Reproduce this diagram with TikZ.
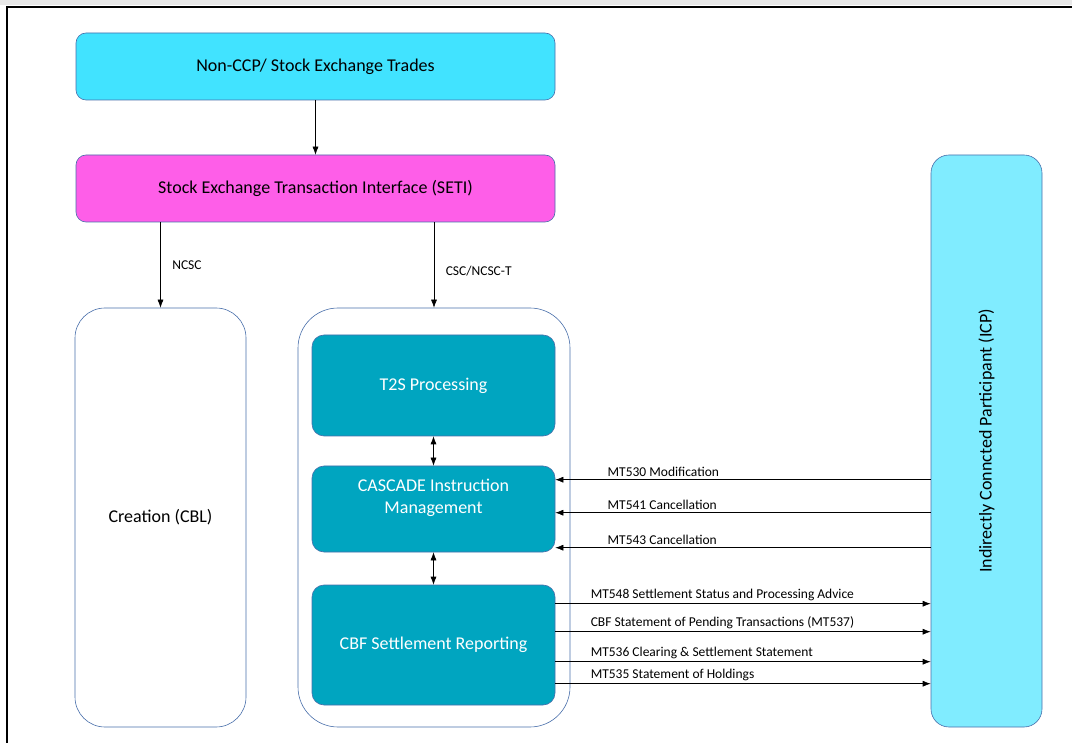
\documentclass[tikz,border=0pt]{standalone}
\usepackage{fontspec}
\setmainfont{Carlito}
\usetikzlibrary{arrows.meta}

\definecolor{boxline}{RGB}{72,110,170}
\definecolor{tradecyan}{RGB}{65,227,255}
\definecolor{setipink}{RGB}{254,94,232}
\definecolor{procteal}{RGB}{0,165,192}
\definecolor{icpcyan}{RGB}{128,236,255}
\definecolor{striptop}{RGB}{232,232,232}

\tikzset{
  bigbox/.style={draw=boxline, semithick, rounded corners=10pt, align=center,
    font=\fontsize{18}{22}\selectfont},
  procbox/.style={bigbox, fill=procteal, text=white, rounded corners=12pt,
    minimum width=243, inner sep=0pt},
  msg/.style={font=\fontsize{13.5}{16}\selectfont, inner sep=2.5pt},
  flow/.style={-{Latex[length=8pt,width=6pt]}, semithick},
  twoway/.style={{Latex[length=8pt,width=6pt]}-{Latex[length=8pt,width=6pt]}, semithick}
}

\begin{document}
\begin{tikzpicture}[x=1pt,y=-1pt]
\useasboundingbox (0,0) rectangle (1072,743);
\fill[striptop] (0,0) rectangle (1072,5);
\draw[line width=1.8pt] (7,743) -- (7,7) -- (1072,7);

\node[bigbox, fill=tradecyan, minimum width=479, minimum height=67] (trades) at (315.5,66.5) {Non-CCP/ Stock Exchange Trades};
\node[bigbox, fill=setipink, minimum width=479, minimum height=67] (seti) at (315.5,188.5) {Stock Exchange Transaction Interface (SETI)};

\node[bigbox, rounded corners=30pt, minimum width=171, minimum height=419] (creation) at (160.5,517.5) {Creation (CBL)};
\node[bigbox, rounded corners=40pt, minimum width=272, minimum height=419] (hub) at (434,517.5) {};

\node[procbox, minimum height=101] (t2s) at (433.5,385.5) {T2S Processing};
\node[procbox, minimum height=86,
  label={[bigbox, draw=none, text=white, yshift=11pt]center:CASCADE Instruction\\Management}] (cascade) at (433.5,509) {};
\node[procbox, minimum height=120] (cbf) at (433.5,645) {CBF Settlement Reporting};

\node[bigbox, fill=icpcyan, rounded corners=18pt, minimum width=111, minimum height=572] (icp) at (986.5,441) {};
\node[bigbox, draw=none, rotate=90] (icptext) at (icp.center) {Indirectly Conncted Participant (ICP)};

\draw[flow] (trades) -- (seti);
\draw[flow] (creation.north |- seti.south) -- (creation.north)
  node[msg, pos=0.5, anchor=west, xshift=9pt] {NCSC};
\draw[flow] (hub.north |- seti.south) -- (hub.north)
  node[msg, pos=0.57, anchor=west, xshift=9pt] {CSC/NCSC-T};

\draw[twoway] (t2s) -- (cascade);
\draw[twoway] (cascade) -- (cbf);

% ICP -> CASCADE
\coordinate (in1) at ([yshift=-14pt]cascade.north east);
\coordinate (in2) at ([yshift=-47pt]cascade.north east);
\coordinate (in3) at ([yshift=-82pt]cascade.north east);
\draw[flow] (in1 -| icp.west) -- (in1) node[msg, pos=0.868, anchor=south west] {MT530 Modification};
\draw[flow] (in2 -| icp.west) -- (in2) node[msg, pos=0.868, anchor=south west] {MT541 Cancellation};
\draw[flow] (in3 -| icp.west) -- (in3) node[msg, pos=0.868, anchor=south west] {MT543 Cancellation};

% CBF -> ICP
\coordinate (out1) at ([yshift=-19pt]cbf.north east);
\coordinate (out2) at ([yshift=-47pt]cbf.north east);
\coordinate (out3) at ([yshift=-77pt]cbf.north east);
\coordinate (out4) at ([yshift=-99pt]cbf.north east);
\draw[flow] (out1) -- (out1 -| icp.west) node[msg, pos=0.087, anchor=south west] {MT548 Settlement Status and Processing Advice};
\draw[flow] (out2) -- (out2 -| icp.west) node[msg, pos=0.087, anchor=south west] {CBF Statement of Pending Transactions (MT537)};
\draw[flow] (out3) -- (out3 -| icp.west) node[msg, pos=0.087, anchor=south west] {MT536 Clearing \& Settlement Statement};
\draw[flow] (out4) -- (out4 -| icp.west) node[msg, pos=0.087, anchor=south west] {MT535 Statement of Holdings};
\end{tikzpicture}
\end{document}
